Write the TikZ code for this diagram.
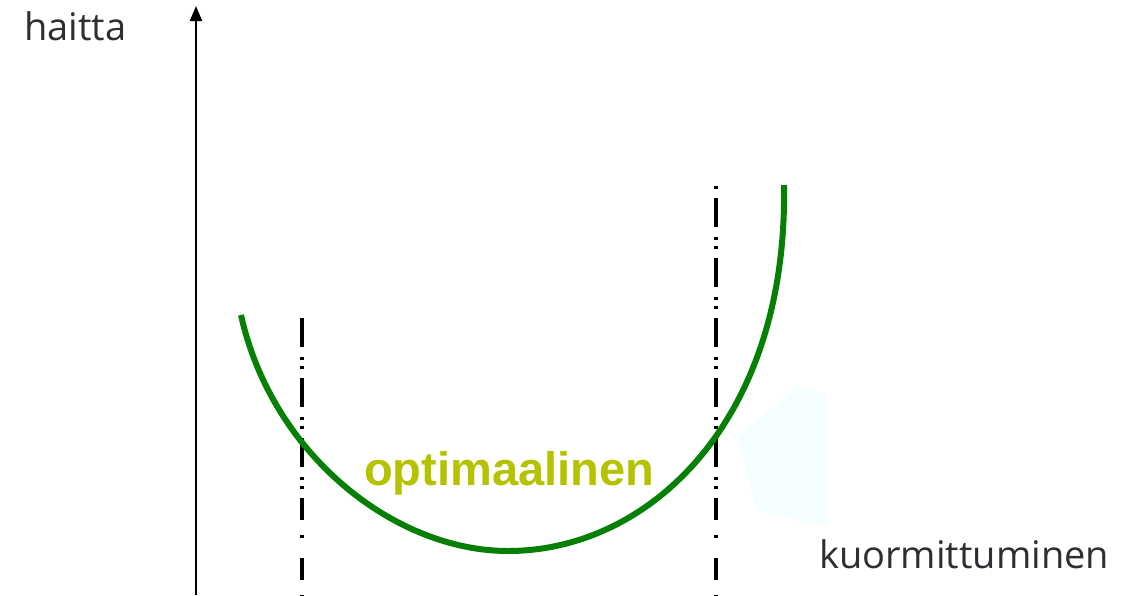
\documentclass[tikz,border=0pt]{standalone}
\usepackage{fontspec}
\setmainfont{Open Sans}
\newfontfamily\boldarial{Liberation Sans}
\definecolor{curvegreen}{HTML}{058005}
\definecolor{optcol}{HTML}{B5C200}
\definecolor{paleblue}{HTML}{F5FEFE}
\definecolor{labelgray}{HTML}{2E2E33}
\usetikzlibrary{arrows.meta}
\begin{document}
\begin{tikzpicture}[x=1pt,y=-1pt,
  axis/.style={line width=2pt,-{Triangle[length=15pt,width=12pt]}},
  limitupper/.style={line width=4pt,dash pattern=on 29pt off 9.5pt on 3pt off 6pt on 3pt off 9.5pt},
  limitlower/.style={line width=4pt,dash pattern=on 22pt off 15pt on 3pt off 20pt},
  curvestyle/.style={curvegreen,line width=6pt},
  lbl/.style={inner sep=0pt,anchor=base west,font=\fontsize{38}{44}\selectfont,text=labelgray}]
\useasboundingbox (0,0) rectangle (1135,595);
\fill[paleblue] (797,387) -- (828,395) -- (828,527) -- (757,510) -- (737,437) -- cycle;
\coordinate (axbot) at (196,595);
\coordinate (axtop) at (196,6);
\draw[axis] (axbot) -- (axtop);
\coordinate (l1a) at (302,318);
\coordinate (l1m) at (302,493);
\coordinate (l1n) at (302,498);
\coordinate (l1b) at (302,596);
\coordinate (l2a) at (716,186);
\coordinate (l2m) at (716,493);
\coordinate (l2n) at (716,498);
\coordinate (l2b) at (716,596);
\draw[limitupper] (l1a) -- (l1m);
\draw[limitlower] (l1n) -- (l1b);
\draw[limitupper,dash phase=48pt] (l2a) -- (l2m);
\draw[limitlower] (l2n) -- (l2b);
\coordinate (cs) at (241,315);
\coordinate (cm) at (508,551);
\coordinate (ce) at (784,185);
\draw[curvestyle] (cs) .. controls (272,455) and (395,551) .. (cm) .. controls (650,551) and (788,420) .. (ce);
\node[lbl] (haitta) at (24,40) {haitta};
\node[lbl] (kuorm) at (819,568) {kuormittuminen};
\node[inner sep=0pt,anchor=base west,font=\boldarial\bfseries\fontsize{47}{52}\selectfont,text=optcol] (opt) at (364,485) {optimaalinen};
\end{tikzpicture}
\end{document}
